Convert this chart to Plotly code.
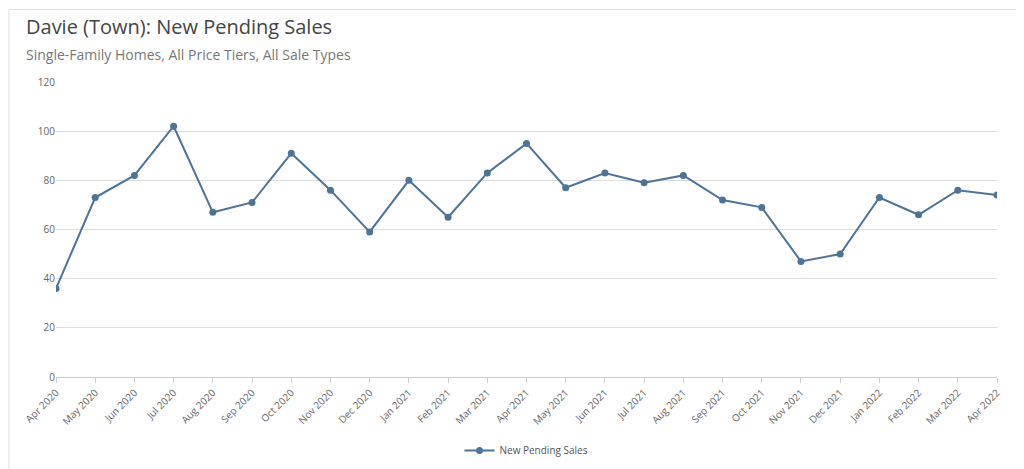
import plotly.graph_objects as go

months = ["Apr 2020", "May 2020", "Jun 2020", "Jul 2020", "Aug 2020", "Sep 2020", "Oct 2020",
          "Nov 2020", "Dec 2020", "Jan 2021", "Feb 2021", "Mar 2021", "Apr 2021", "May 2021",
          "Jun 2021", "Jul 2021", "Aug 2021", "Sep 2021", "Oct 2021", "Nov 2021", "Dec 2021",
          "Jan 2022", "Feb 2022", "Mar 2022", "Apr 2022"]
pending = [36, 73, 82, 102, 67, 71, 91, 76, 59, 80, 65, 83, 95, 77, 83, 79, 82, 72, 69, 47, 50,
           73, 66, 76, 74]

color = "#4e7396"

fig = go.Figure(go.Scatter(
    x=months, y=pending, mode="lines+markers", name="New Pending Sales",
    line=dict(color=color, width=2), marker=dict(color=color, size=7)))

fig.update_layout(
    width=1024, height=469,
    paper_bgcolor="white", plot_bgcolor="white",
    font=dict(family="Open Sans", color="#666"),
    margin=dict(l=48, r=35, t=74, b=98),
    showlegend=True,
    legend=dict(orientation="h", x=0.5, xanchor="center", y=-0.2, yanchor="top",
                font=dict(size=10, color="#555")),
    xaxis=dict(tickangle=-45, tickfont=dict(size=10), showgrid=False,
               showline=True, linecolor="#ccc", ticks="outside", tickcolor="#ccc",
               range=[0, len(months) - 1]),
    yaxis=dict(range=[0, 120], dtick=20, tickfont=dict(size=10), gridcolor="#ddd",
               zeroline=False),
    annotations=[
        dict(text="Davie (Town): New Pending Sales", xref="paper", yref="paper",
             x=-0.034, y=1.188, xanchor="left", yanchor="middle", showarrow=False,
             font=dict(size=20, color="#444")),
        dict(text="Single-Family Homes, All Price Tiers, All Sale Types", xref="paper", yref="paper",
             x=-0.034, y=1.094, xanchor="left", yanchor="middle", showarrow=False,
             font=dict(size=14, color="#777")),
    ],
    shapes=[dict(type="rect", xref="paper", yref="paper", x0=-0.05, x1=1.035, y0=-0.323, y1=1.246,
                 line=dict(color="#ddd", width=1))],
)

fig.write_html("out.html")
